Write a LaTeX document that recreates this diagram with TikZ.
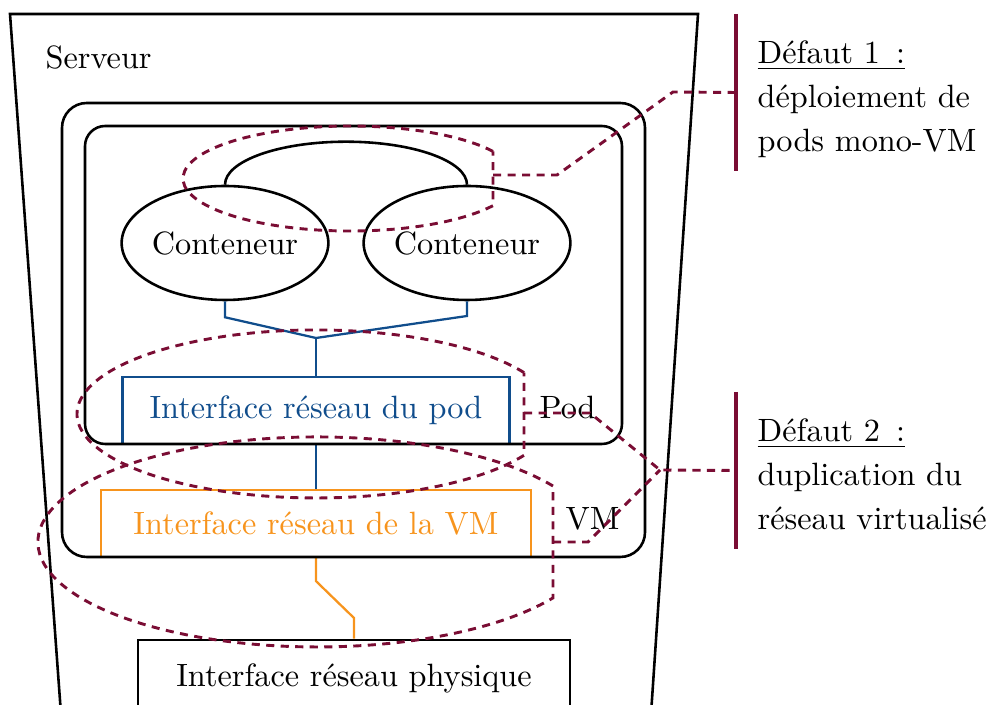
\documentclass[tikz,border=0pt]{standalone}
\usepackage{fontspec}
\usetikzlibrary{shapes,positioning}
\definecolor{bleupod}{RGB}{16,77,140}
\definecolor{orangevm}{RGB}{247,148,29}
\definecolor{rougedefaut}{RGB}{122,13,52}
\def\pxu{0.0109cm}
\tikzset{
    conteneur/.style={
        ellipse,
        thick,
        draw=black,
        minimum width=206*\pxu,
        minimum height=114*\pxu,
        inner sep=0pt,
    },
    ifpod/.style={
        rectangle,
        line width=0.7pt,
        draw=bleupod,
        text=bleupod,
        minimum width=387*\pxu,
        minimum height=67*\pxu,
        inner sep=0pt,
    },
    ifvm/.style={
        rectangle,
        line width=0.7pt,
        draw=orangevm,
        text=orangevm,
        minimum width=430*\pxu,
        minimum height=67*\pxu,
        inner sep=0pt,
    },
    ifphys/.style={
        rectangle,
        thick,
        draw=black,
        minimum width=432*\pxu,
        minimum height=76*\pxu,
        inner sep=0pt,
    },
    etiquette/.style={
        inner sep=0pt,
        anchor=west
    },
    texte/.style={
        inner sep=0pt,
        anchor=north west,
        align=left
    },
    lienpod/.style={
        line width=0.7pt,
        draw=bleupod
    },
    lienvm/.style={
        line width=0.7pt,
        draw=orangevm
    },
    defaut/.style={
        line width=0.9pt,
        draw=rougedefaut,
        dash pattern=on 2.5pt off 2pt
    },
    barre/.style={
        line width=1pt,
        draw=rougedefaut
    }
}

\begin{document}
\begin{tikzpicture}[x=\pxu,y=\pxu]
    \clip (0,0) rectangle (992,704);
    % le serveur
    \draw[thick] (61,-10) -- (10,690) -- (698,690) -- (651,-10);
    \node[etiquette] (serveur) at (45,647) {Serveur};

    % conteneurs du pod
    \node[conteneur] (cont1) at (225,461) {Conteneur};
    \node[conteneur] (cont2) at (467,461) {Conteneur};
    \draw[thick] (cont1.north) arc[start angle=180,end angle=0,x radius={121*\pxu},y radius={43*\pxu}];

    % interfaces reseau
    \node[ifpod] (ifpod) at (316,293.5) {Interface réseau du pod};
    \node[ifvm] (ifvm) at (316,180.5) {Interface réseau de la VM};
    \node[ifphys] (ifphys) at (354,26) {Interface réseau physique};

    \coordinate (jonction) at (316,366);
    \draw[lienpod] (cont1.south) -- ++(0,-16) -- (jonction) -- (467,388) -- (cont2.south);
    \draw[lienpod] (jonction) -- (ifpod.north);
    \draw[lienpod] (ifpod.south) -- (ifvm.north);
    \draw[lienvm] (ifvm.south) -- ++(0,-23) -- (354,86) -- (ifphys.north);

    % VM et pod
    \draw[thick,rounded corners=0.27cm] (62,147) rectangle (645,601);
    \draw[thick,rounded corners=0.22cm] (85,260) rectangle (622,578);
    \node[etiquette] (pod) at (539,296.5) {Pod};
    \node[etiquette] (vm) at (565,185) {VM};

    % defauts
    \draw[defaut] (493,552.6) arc[start angle=31.1,end angle=328.9,x radius={167*\pxu},y radius={52.5*\pxu}] -- cycle;
    \draw[defaut] (524,331.4) arc[start angle=29.5,end angle=330.5,x radius={239*\pxu},y radius={84*\pxu}] -- cycle;
    \draw[defaut] (553,218) arc[start angle=32.2,end angle=327.8,x radius={279*\pxu},y radius={105*\pxu}] -- cycle;
    \coordinate (d1) at (493,529);
    \coordinate (d2) at (524,291);
    \coordinate (d3) at (553,162);

    \draw[barre] (736,690) -- (736,533) coordinate[pos=0.5] (b1);
    \draw[barre] (736,312) -- (736,155) coordinate[pos=0.5] (b2);
    \draw[defaut] (d1) -- (557,529) -- (673,612) -- (b1);
    \draw[defaut] (d2) -- (590,291) -- (660,234) -- (b2);
    \draw[defaut] (d3) -- (588,162) -- (660,234);

    \node[texte] (defaut1) at (757,664) {\underline{Défaut 1\ \,:}\\[1.7pt]déploiement de\\[1.7pt]pods mono-VM};
    \node[texte] (defaut2) at (757,286) {\underline{Défaut 2\ \,:}\\[1.7pt]duplication du\\[1.7pt]réseau virtualisé};
\end{tikzpicture}
\end{document}
